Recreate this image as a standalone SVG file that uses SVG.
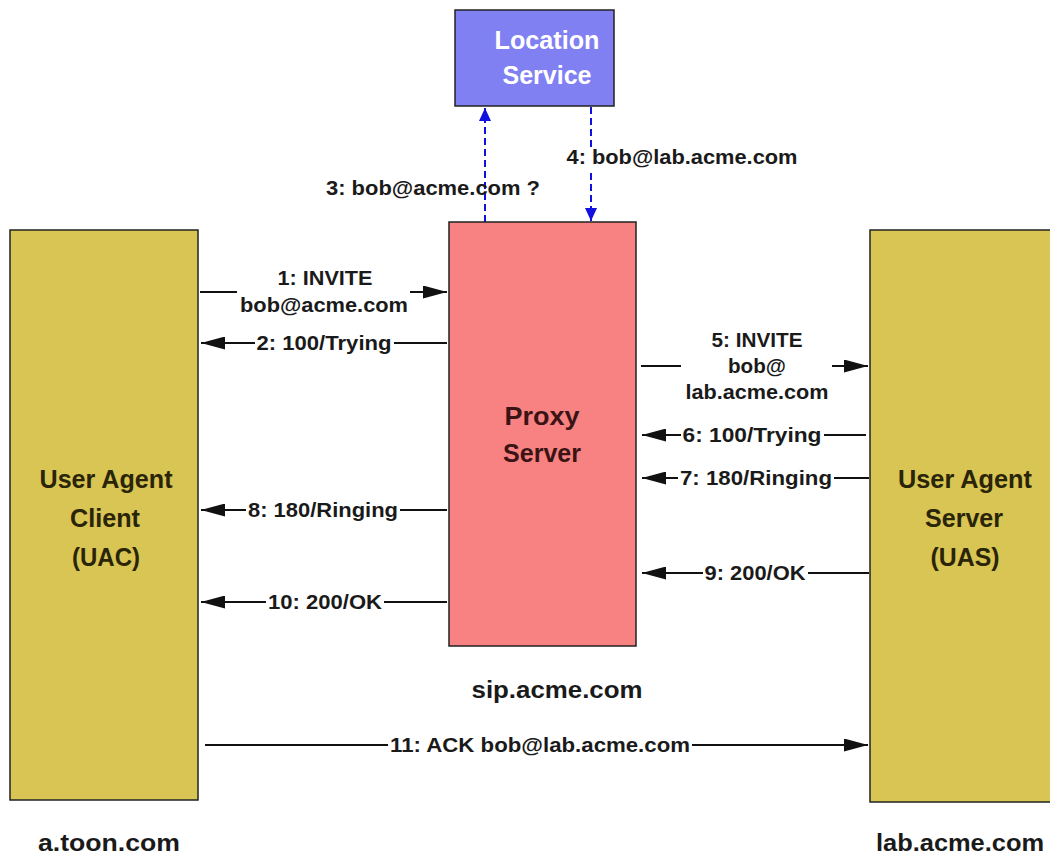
<svg xmlns="http://www.w3.org/2000/svg" width="1050" height="856" viewBox="0 0 1050 856">
<defs>
<marker id="ah" viewBox="0 0 24 13" refX="24" refY="6.5" markerWidth="24" markerHeight="13" markerUnits="userSpaceOnUse" orient="auto">
<path d="M0,0 L24,6.5 L0,13 Z" fill="#111"/>
</marker>
<marker id="bh" viewBox="0 0 13 12" refX="13" refY="6" markerWidth="13" markerHeight="12" markerUnits="userSpaceOnUse" orient="auto">
<path d="M0,0 L13,6 L0,12 Z" fill="#1010e0"/>
</marker>
<style>
.box{stroke:#222;stroke-width:1.5}
.big{font-family:"Liberation Sans",Arial,sans-serif;font-weight:bold;font-size:26px;text-anchor:middle}
.lbl{font-family:"Liberation Sans",Arial,sans-serif;font-weight:bold;font-size:20px;fill:#1a1a1a;text-anchor:middle}
.host{font-family:"Liberation Sans",Arial,sans-serif;font-weight:bold;font-size:23px;fill:#1a1a1a;text-anchor:middle}
.ln{stroke:#111;stroke-width:2;fill:none}
.dash{stroke:#1010e0;stroke-width:2;stroke-dasharray:7,4;fill:none}
</style>
</defs>
<rect width="1050" height="856" fill="#fff"/>

<g id="connectors">
<line class="dash" x1="485" y1="222" x2="485" y2="108" marker-end="url(#bh)"/>
<line class="dash" x1="591" y1="107" x2="591" y2="221" marker-end="url(#bh)"/>
<rect x="584" y="149" width="14" height="20" fill="#fff"/>
<line class="ln" x1="200" y1="292" x2="237" y2="292"/>
<line class="ln" x1="410" y1="292" x2="447" y2="292" marker-end="url(#ah)"/>
<line class="ln" x1="447" y1="343" x2="394" y2="343"/>
<line class="ln" x1="255" y1="343" x2="201" y2="343" marker-end="url(#ah)"/>
<line class="ln" x1="641" y1="366" x2="681" y2="366"/>
<line class="ln" x1="832" y1="366" x2="868" y2="366" marker-end="url(#ah)"/>
<line class="ln" x1="866" y1="435" x2="824" y2="435"/>
<line class="ln" x1="681" y1="435" x2="642" y2="435" marker-end="url(#ah)"/>
<line class="ln" x1="869" y1="478" x2="834" y2="478"/>
<line class="ln" x1="678" y1="478" x2="642" y2="478" marker-end="url(#ah)"/>
<line class="ln" x1="447" y1="510" x2="400" y2="510"/>
<line class="ln" x1="246" y1="510" x2="201" y2="510" marker-end="url(#ah)"/>
<line class="ln" x1="869" y1="573" x2="808" y2="573"/>
<line class="ln" x1="703" y1="573" x2="642" y2="573" marker-end="url(#ah)"/>
<line class="ln" x1="447" y1="602" x2="384" y2="602"/>
<line class="ln" x1="266" y1="602" x2="201" y2="602" marker-end="url(#ah)"/>
<line class="ln" x1="205" y1="745" x2="388" y2="745"/>
<line class="ln" x1="692" y1="745" x2="868" y2="745" marker-end="url(#ah)"/>

<text class="lbl" x="433" y="195" textLength="214" lengthAdjust="spacingAndGlyphs">3: bob@acme.com ?</text>
<text class="lbl" x="682" y="164" textLength="231" lengthAdjust="spacingAndGlyphs">4: bob@lab.acme.com</text>
<text class="lbl" x="325" y="285" textLength="95" lengthAdjust="spacingAndGlyphs">1: INVITE</text>
<text class="lbl" x="324" y="312" textLength="168" lengthAdjust="spacingAndGlyphs">bob@acme.com</text>
<text class="lbl" x="324" y="350" textLength="135" lengthAdjust="spacingAndGlyphs">2: 100/Trying</text>
<text class="lbl" x="757" y="347" textLength="91" lengthAdjust="spacingAndGlyphs">5: INVITE</text>
<text class="lbl" x="757" y="373" textLength="58" lengthAdjust="spacingAndGlyphs">bob@</text>
<text class="lbl" x="757" y="399" textLength="143" lengthAdjust="spacingAndGlyphs">lab.acme.com</text>
<text class="lbl" x="752" y="442" textLength="139" lengthAdjust="spacingAndGlyphs">6: 100/Trying</text>
<text class="lbl" x="756" y="485" textLength="152" lengthAdjust="spacingAndGlyphs">7: 180/Ringing</text>
<text class="lbl" x="323" y="517" textLength="150" lengthAdjust="spacingAndGlyphs">8: 180/Ringing</text>
<text class="lbl" x="755" y="580" textLength="101" lengthAdjust="spacingAndGlyphs">9: 200/OK</text>
<text class="lbl" x="325" y="609" textLength="114" lengthAdjust="spacingAndGlyphs">10: 200/OK</text>
<text class="lbl" x="540" y="752" textLength="300" lengthAdjust="spacingAndGlyphs">11: ACK bob@lab.acme.com</text>
</g>

<g id="location-service">
<rect class="box" x="455" y="10" width="159" height="96" fill="#8080f2"/>
<text class="big" x="547" y="49" fill="#fff" textLength="105" lengthAdjust="spacingAndGlyphs">Location</text>
<text class="big" x="547" y="84" fill="#fff" textLength="89" lengthAdjust="spacingAndGlyphs">Service</text>
</g>

<g id="proxy-server">
<rect class="box" x="449" y="222" width="187" height="424" fill="#f88282"/>
<text class="big" x="542" y="425" fill="#3a1414" textLength="75" lengthAdjust="spacingAndGlyphs">Proxy</text>
<text class="big" x="542" y="462" fill="#3a1414" textLength="78" lengthAdjust="spacingAndGlyphs">Server</text>
<text class="host" x="557" y="698" textLength="171" lengthAdjust="spacingAndGlyphs">sip.acme.com</text>
</g>

<g id="uac">
<rect class="box" x="10" y="230" width="188" height="570" fill="#d8c553"/>
<text class="big" x="106" y="488" fill="#2a2408" textLength="133" lengthAdjust="spacingAndGlyphs">User Agent</text>
<text class="big" x="105" y="527" fill="#2a2408" textLength="70" lengthAdjust="spacingAndGlyphs">Client</text>
<text class="big" x="106" y="566" fill="#2a2408" textLength="68" lengthAdjust="spacingAndGlyphs">(UAC)</text>
<text class="host" x="109" y="851" textLength="142" lengthAdjust="spacingAndGlyphs">a.toon.com</text>
</g>

<g id="uas">
<rect class="box" x="870" y="230" width="190" height="572" fill="#d8c553"/>
<text class="big" x="965" y="488" fill="#2a2408" textLength="134" lengthAdjust="spacingAndGlyphs">User Agent</text>
<text class="big" x="964" y="527" fill="#2a2408" textLength="78" lengthAdjust="spacingAndGlyphs">Server</text>
<text class="big" x="965" y="566" fill="#2a2408" textLength="69" lengthAdjust="spacingAndGlyphs">(UAS)</text>
<text class="host" x="960" y="851" textLength="168" lengthAdjust="spacingAndGlyphs">lab.acme.com</text>
</g>
</svg>
